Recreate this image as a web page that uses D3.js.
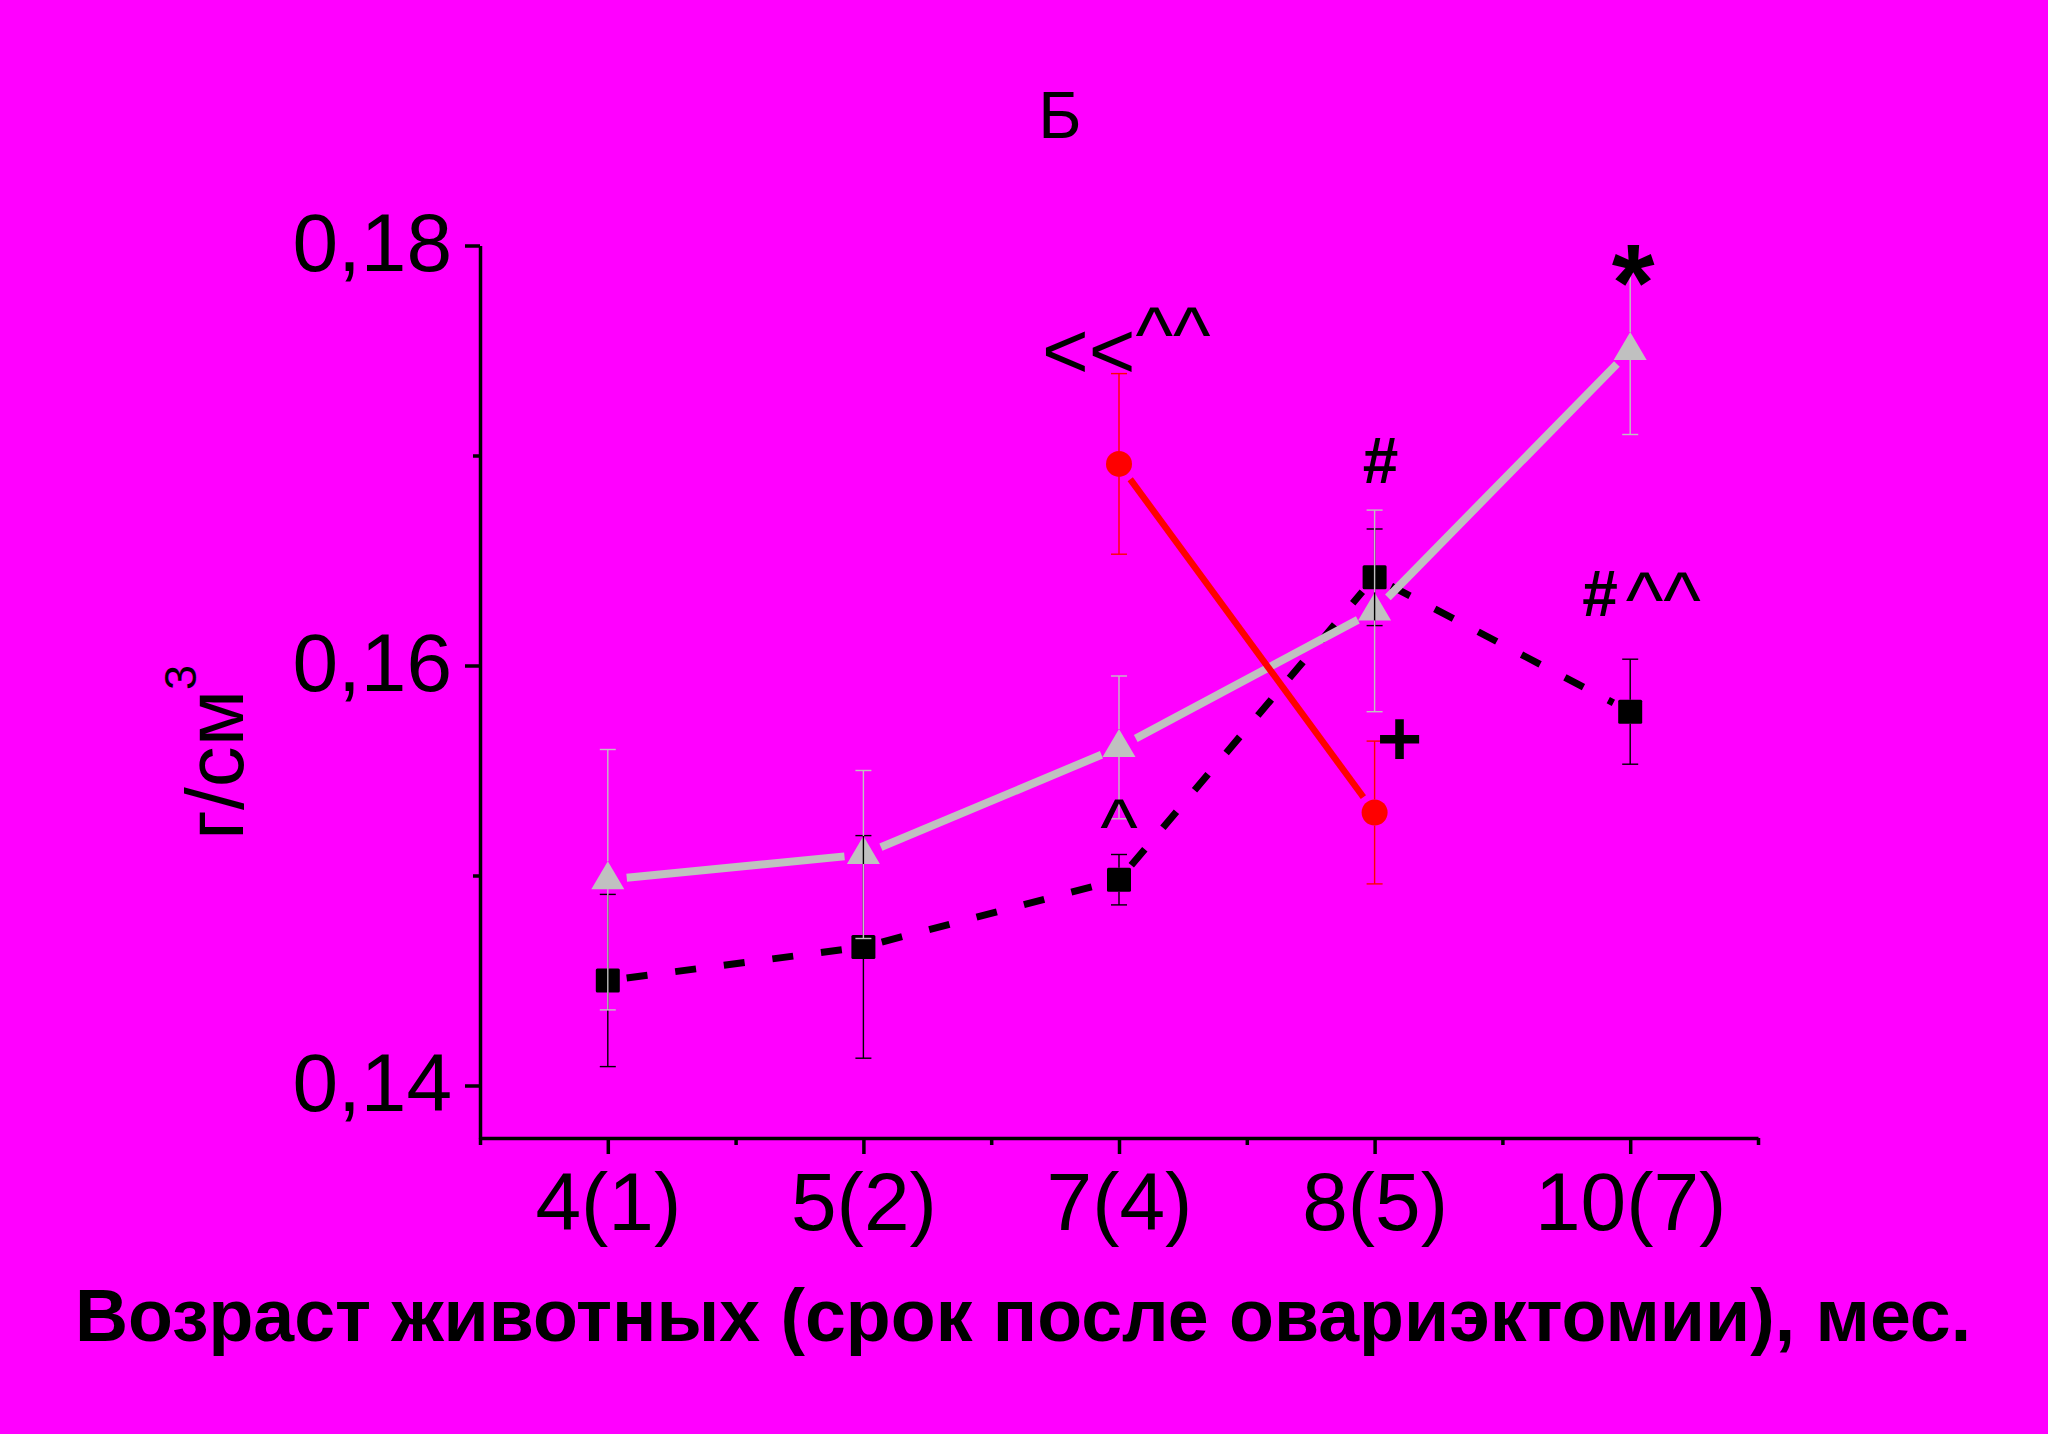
<!DOCTYPE html>
<html><head><meta charset="utf-8">
<script src="https://cdn.jsdelivr.net/npm/d3@7"></script>
<style>html,body{margin:0;padding:0;background:#ff00ff;}svg{display:block;}</style>
</head><body>
<script>
// ---- data ----
const categories = ["4(1)", "5(2)", "7(4)", "8(5)", "10(7)"];
const grayValues  = [0.1498, 0.1510, 0.1561, 0.1626, 0.1750];
const grayErrors  = [0.0062, 0.0040, 0.0034, 0.0048, 0.0040];
const blackValues = [0.1450, 0.1466, 0.1498, 0.1642, 0.1578];
const blackErrors = [0.0041, 0.0053, 0.0012, 0.0023, 0.0025];
const redValues   = [null, null, 0.1696, 0.1530, null];
const redErrors   = [null, null, 0.0043, 0.0034, null];
const yMajorTicks = [0.14, 0.16, 0.18];
const yMinorTicks = [0.15, 0.17];
const yTickLabels = ["0,14", "0,16", "0,18"];
const chartTitle = "Б";
const xTitle = "Возраст животных (срок после овариэктомии), мес.";
const yTitle = "г/см";
const yTitleSup = "3";

const W = 2048, H = 1434;
const FONT = "Arial, 'Liberation Sans', Helvetica, sans-serif";
const svg = d3.select("body").append("svg").attr("width", W).attr("height", H);
svg.append("rect").attr("width", W).attr("height", H).attr("fill", "#ff00ff");

const x = d3.scaleLinear().domain([0.5, categories.length + 0.5]).range([480, 1758]);
const y = d3.scaleLinear().domain([0.1375, 0.18]).range([1138, 245.5]);
const xBottom = 1138, yLeft = 480;

// ---- axes ----
const gx = svg.append("g").attr("transform", `translate(0,${xBottom})`);
gx.call(d3.axisBottom(x).tickValues(categories.map((c, i) => i + 1))
  .tickFormat((d) => categories[d - 1]).tickSize(16).tickSizeOuter(0));
const gxm = svg.append("g").attr("transform", `translate(0,${xBottom})`);
gxm.call(d3.axisBottom(x).tickValues(d3.range(0.5, categories.length + 1, 1))
  .tickFormat("").tickSize(7).tickSizeOuter(0));
gxm.select(".domain").remove();

const gy = svg.append("g").attr("transform", `translate(${yLeft},0)`);
gy.call(d3.axisLeft(y).tickValues(yMajorTicks)
  .tickFormat((d, i) => yTickLabels[i]).tickSize(15).tickSizeOuter(0));
const gym = svg.append("g").attr("transform", `translate(${yLeft},0)`);
gym.call(d3.axisLeft(y).tickValues(yMinorTicks).tickFormat("").tickSize(7).tickSizeOuter(0));
gym.select(".domain").remove();

[gx, gxm, gy, gym].forEach(g => {
  g.selectAll(".domain, line").attr("stroke", "#000").attr("stroke-width", 3.5);
});
gx.selectAll("text").attr("font-family", FONT).attr("font-size", 82).attr("fill", "#000")
  .attr("y", 92).attr("dy", 0);
gy.selectAll("text").attr("font-family", FONT).attr("font-size", 82).attr("fill", "#000")
  .attr("x", -28).attr("y", 25).attr("dy", 0);

// ---- titles ----
svg.append("text").attr("x", 1060).attr("y", 138).attr("text-anchor", "middle")
  .attr("font-family", FONT).attr("font-size", 66).attr("fill", "#000").text(chartTitle);
svg.append("text").attr("x", 1023).attr("y", 1341).attr("text-anchor", "middle")
  .attr("font-family", FONT).attr("font-size", 73.5).attr("font-weight", "bold").attr("fill", "#000").text(xTitle);
const yt = svg.append("text").attr("transform", "translate(243,840) rotate(-90)")
  .attr("font-family", FONT).attr("font-size", 82).attr("fill", "#000").text(yTitle);
yt.append("tspan").attr("font-size", 45).attr("dy", -47).text(yTitleSup);

// ---- series ----
const series = [
  { values: blackValues, errors: blackErrors, color: "#000000", width: 7, dash: "21,28", marker: "square" },
  { values: grayValues, errors: grayErrors, color: "#c0c0c0", width: 8, dash: null, marker: "triangle" },
  { values: redValues, errors: redErrors, color: "#ff0000", width: 6.5, dash: null, marker: "circle" }
];
const GAP = 19;
const pts = s => s.values.map((v, i) => v == null ? null : { px: x(i + 1), py: y(v), v, e: s.errors[i] }).filter(Boolean);

// lines with gaps at markers
series.forEach(s => {
  const p = pts(s);
  for (let i = 0; i < p.length - 1; i++) {
    const a = p[i], b = p[i + 1];
    const dx = b.px - a.px, dy = b.py - a.py, L = Math.hypot(dx, dy);
    const ux = dx / L, uy = dy / L;
    svg.append("line")
      .attr("x1", a.px + ux * GAP).attr("y1", a.py + uy * GAP)
      .attr("x2", b.px - ux * GAP).attr("y2", b.py - uy * GAP)
      .attr("stroke", s.color).attr("stroke-width", s.width)
      .attr("stroke-dasharray", s.dash);
  }
});

// markers
const half = { square: 12, triangle: 18.5, circle: 13 };
series.forEach(s => {
  pts(s).forEach(p => {
    if (s.marker === "square") {
      svg.append("rect").attr("x", p.px - 12).attr("y", p.py - 12).attr("width", 24).attr("height", 24)
        .attr("rx", 1.5).attr("fill", s.color);
    } else if (s.marker === "triangle") {
      svg.append("path").attr("d", `M${p.px},${p.py - 18.5}L${p.px + 16.5},${p.py + 9.5}L${p.px - 16.5},${p.py + 9.5}Z`)
        .attr("fill", s.color);
    } else {
      svg.append("circle").attr("cx", p.px).attr("cy", p.py).attr("r", 13).attr("fill", s.color);
    }
  });
});

// error bars (gap through own marker)
series.forEach(s => {
  const h = s.marker === "triangle" ? [18.5, 9.5] : [half[s.marker], half[s.marker]];
  pts(s).forEach(p => {
    const top = y(p.v + p.e), bot = y(p.v - p.e);
    const g = svg.append("g").attr("stroke", s.color).attr("stroke-width", 1.4);
    g.append("line").attr("x1", p.px).attr("x2", p.px).attr("y1", top).attr("y2", p.py - h[0]);
    g.append("line").attr("x1", p.px).attr("x2", p.px).attr("y1", p.py + h[1]).attr("y2", bot);
    g.append("line").attr("x1", p.px - 8).attr("x2", p.px + 8).attr("y1", top).attr("y2", top);
    g.append("line").attr("x1", p.px - 8).attr("x2", p.px + 8).attr("y1", bot).attr("y2", bot);
  });
});

// ---- significance annotations ----
function ann(cat, val, dx, dy, parts, anchor) {
  const t = svg.append("text").attr("x", x(cat) + dx).attr("y", y(val) + dy)
    .attr("font-family", FONT).attr("fill", "#000").attr("text-anchor", anchor || "start");
  parts.forEach(pt => {
    const ts = t.append("tspan").text(pt.t).attr("font-size", pt.size).attr("font-weight", pt.bold ? "bold" : "normal");
    if (pt.dy) ts.attr("dy", pt.dy);
    if (pt.dx) ts.attr("dx", pt.dx);
  });
}
ann(3, redValues[2], -77, -86, [{ t: "<<", size: 80 }, { t: "^^", size: 80, dy: -16 }]);
ann(3, blackValues[2], 0, -26, [{ t: "^", size: 80 }], "middle");
ann(4, blackValues[3], 6, -94, [{ t: "#", size: 64, bold: true }], "middle");
ann(4, redValues[3], 25, -48, [{ t: "+", size: 78, bold: true }], "middle");
ann(5, blackValues[4], -48, -96, [{ t: "#", size: 64, bold: true }, { t: "^^", size: 80, dy: 11, dx: 8 }]);
ann(5, grayValues[4], 3, -31, [{ t: "*", size: 110, bold: true }], "middle");
</script>
</body></html>
